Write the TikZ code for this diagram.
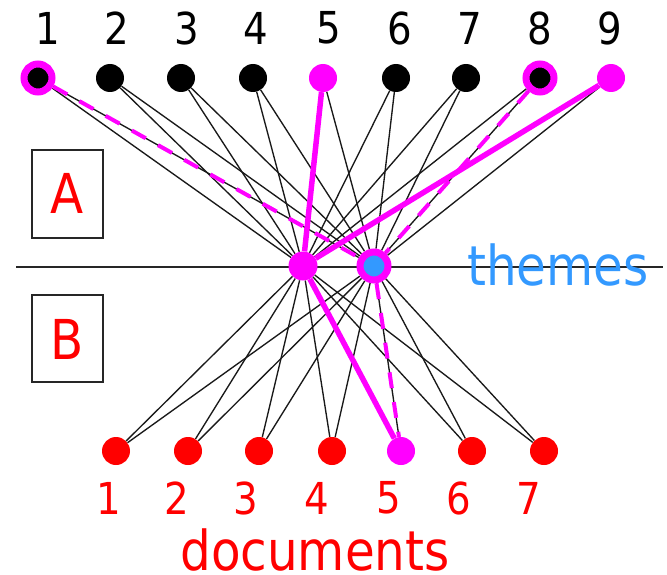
\documentclass[tikz,border=0pt]{standalone}
\usepackage{fontspec}
\setmainfont{DejaVu Sans}[FakeStretch=0.88]
\usetikzlibrary{backgrounds}
\definecolor{hl}{HTML}{FF00FF}
\definecolor{docred}{HTML}{FF0000}
\definecolor{themeblue}{HTML}{3399FF}
\tikzset{
  x=1pt, y=-1pt,
  dot/.style={circle, inner sep=0pt, minimum size=28pt},
  worddot/.style={dot, fill=black},
  wordhl/.style={dot, fill=hl},
  wordring/.style={dot, fill=black, draw=hl, line width=7pt},
  themehl/.style={dot, fill=hl, minimum size=29pt},
  themering/.style={dot, fill=themeblue, draw=hl, line width=7pt},
  docdot/.style={dot, fill=docred},
  dochl/.style={dot, fill=hl},
  numlabel/.style={inner sep=0pt, font=\fontsize{44}{48}\selectfont},
  biglabel/.style={inner sep=0pt, font=\fontsize{55}{60}\selectfont},
  link/.style={draw=black!90, line width=1.35pt},
  strong/.style={draw=hl, line width=5.5pt},
  weak/.style={draw=hl, line width=4pt, dash pattern=on 16pt off 14pt},
  panel/.style={draw=black!85, line width=2pt},
}
\begin{document}
\begin{tikzpicture}
\useasboundingbox (0,0) rectangle (667,575);

% word nodes
\node[wordring] (w1) at (38,78) {};
\node[worddot]  (w2) at (110,78) {};
\node[worddot]  (w3) at (181,78) {};
\node[worddot]  (w4) at (253,78) {};
\node[wordhl]   (w5) at (323,78) {};
\node[worddot]  (w6) at (396,78) {};
\node[worddot]  (w7) at (466,78) {};
\node[wordring] (w8) at (540,78) {};
\node[wordhl]   (w9) at (611,78) {};

% word numbers
\foreach \i/\x in {1/48,2/117,3/187,4/256,5/329,6/400,7/470,8/540,9/610}
  \node[numlabel] (wl\i) at (\x,28) {\i};

% theme nodes and separator
\draw[panel] (16,267) coordinate (sepL) -- (663,267) coordinate (sepR);
\node[themehl]   (t1) at (303,266) {};
\node[themering] (t2) at (374,266) {};
\node[biglabel, text=themeblue, anchor=base west] (themes) at (467,285) {themes};

% document nodes
\node[docdot] (d1) at (116,451) {};
\node[docdot] (d2) at (188,451) {};
\node[docdot] (d3) at (259,451) {};
\node[docdot] (d4) at (332,451) {};
\node[dochl]  (d5) at (401,451) {};
\node[docdot] (d6) at (472,451) {};
\node[docdot] (d7) at (544,451) {};

\foreach \i/\x in {1/109,2/177,3/246,4/317,5/389,6/459,7/529}
  \node[numlabel, text=docred] (dl\i) at (\x,498) {\i};
\node[biglabel, text=docred, anchor=base] (docs) at (315,570) {documents};

% panels A and B
\draw[panel] (32,150) rectangle (103,238);
\node[biglabel, text=docred] (la) at (67,193) {A};
\draw[panel] (32,295) rectangle (103,382);
\node[biglabel, text=docred] (lb) at (67,339) {B};

\begin{scope}[on background layer]
  % words to themes
  \foreach \i in {1,2,3,4,6,7,8}
    \path[link] (w\i) -- (t1);
  \foreach \i in {1,...,9}
    \path[link] (w\i) -- (t2);
  \path[strong] (w5) -- (t1);
  \path[strong] (w9) -- (t1);
  \path[weak] (w1) -- (t2);
  \path[weak] (w8) -- (t2);
  % themes to documents
  \foreach \i in {1,2,3,4,6,7}
    \path[link] (t1) -- (d\i);
  \foreach \i in {1,...,7}
    \path[link] (t2) -- (d\i);
  \path[strong] (t1) -- (d5);
  \path[weak] (t2) -- (d5);
\end{scope}
\end{tikzpicture}
\end{document}
